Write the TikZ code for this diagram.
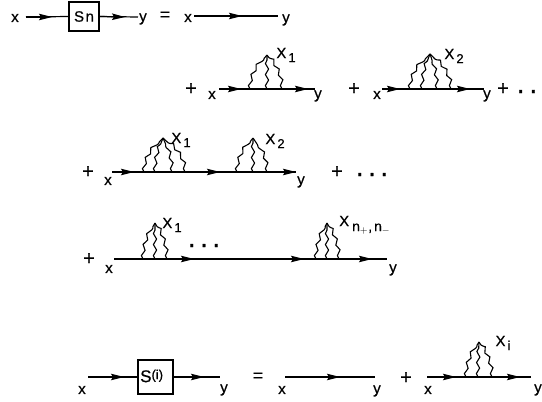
\documentclass[tikz,border=0pt]{standalone}
\usepackage{fontspec}
\setmainfont{Liberation Sans}[FakeBold=0.6,BoldFont=*]
\usetikzlibrary{arrows.meta,decorations.pathmorphing}

\newcommand{\Xsub}[1]{X\kern2pt\raisebox{-4pt}{\fontsize{13}{13}\selectfont\bfseries #1}}
% wavy lines from the feet up to one apex: apex x, apex y, base y, feet
\newcommand{\bubble}[4]{%
  \foreach \f in {#4} {
    \draw[wiggle] (\f,#3) .. controls (\f,#3-12) and ({(\f*.45+#1*.55)},#2+9) .. (#1,#2);
  }
}

\begin{document}
\begin{tikzpicture}[
  x=1pt,y=-1pt,
  font=\fontsize{15}{16}\selectfont\bfseries,
  line/.style={line width=1.2pt},
  flow/.style={line width=1.2pt,-{Stealth[length=13pt,width=6.5pt,inset=2pt]}},
  wiggle/.style={line width=1.1pt,decorate,decoration={snake,segment length=11pt,amplitude=1.6pt,post length=3pt}},
  term/.style={inner sep=0pt},
  sumsign/.style={inner sep=0pt,font=\fontsize{20}{20}\selectfont\bfseries},
  equal/.style={inner sep=0pt,font=\fontsize{18}{18}\selectfont\bfseries},
  trail/.style={inner sep=0pt,anchor=base,font=\fontsize{28}{28}\selectfont\bfseries},
  boxed/.style={draw,line width=1.2pt,inner sep=0pt,minimum width=30pt}
]
\useasboundingbox (0,0) rectangle (542,402);

% first line
\node[term] (x1) at (15,18) {x};
\node[boxed,minimum height=29pt] (sn) at (84,16.5) {S\kern1.5pt n};
\node[term] (y1) at (143,19) {y};
\node[equal] (eq1) at (165,16) {=};
\node[term] (x2) at (188,18) {x};
\node[term] (y2) at (286,20) {y};
\coordinate (a1) at (26,17);
\coordinate (t1) at (52,17);
\coordinate (t2) at (125,17);
\coordinate (b1) at (138,17);
\coordinate (a2) at (194,16);
\coordinate (t3) at (242,16);
\coordinate (b2) at (278,16);
\draw[line] (a1) -- (sn.west);
\draw[flow] (a1) -- (t1);
\draw[line] (sn.east) -- (b1);
\draw[flow] (sn.east) -- (t2);
\draw[line] (a2) -- (b2);
\draw[flow] (a2) -- (t3);

% second line
\node[sumsign] (p1) at (191,89) {+};
\node[term] (x3) at (212,95) {x};
\node[term] (y3) at (318,96) {y};
\coordinate (a3) at (219,89);
\coordinate (t4) at (241,89);
\coordinate (t5) at (308,89);
\coordinate (b3) at (315,89);
\draw[line] (a3) -- (b3);
\draw[flow] (a3) -- (t4);
\draw[flow] (a3) -- (t5);
\bubble{267}{55}{89}{250,267,282}
\node[term] (l1) at (286,55) {\Xsub{1}};
\node[sumsign] (p2) at (354,89) {+};
\node[term] (x4) at (377,95) {x};
\node[term] (y4) at (487,96) {y};
\coordinate (a4) at (382,89);
\coordinate (t6) at (400,89);
\coordinate (t7) at (470,89);
\coordinate (b4) at (484,89);
\draw[line] (a4) -- (b4);
\draw[flow] (a4) -- (t6);
\draw[flow] (a4) -- (t7);
\bubble{430}{54}{89}{410,422,437,451}
\node[term] (l2) at (454,56) {\Xsub{2}};
\node[sumsign] (p3) at (503,89) {+};
\node[trail] (d1) at (527,93) {.\hspace{5pt}.};

% third line
\node[sumsign] (p4) at (88,172) {+};
\node[term] (x5) at (108,181) {x};
\node[term] (y5) at (301,182) {y};
\coordinate (a5) at (112,172);
\coordinate (t8) at (134,172);
\coordinate (t9) at (220,172);
\coordinate (b5) at (296,172);
\draw[line] (a5) -- (b5);
\draw[flow] (a5) -- (t8);
\draw[flow] (a5) -- (t9);
\draw[flow] (a5) -- (b5);
\bubble{163}{138}{172}{144,155,172,185}
\node[term] (l3) at (181,140) {\Xsub{1}};
\bubble{253}{138}{172}{237,253,267}
\node[term] (l4) at (275,141) {\Xsub{2}};
\node[sumsign] (p5) at (337,172) {+};
\node[trail] (d2) at (372,176) {.\hspace{4.5pt}.\hspace{4.5pt}.};

% fourth line
\node[sumsign] (p6) at (89,259) {+};
\node[term] (x6) at (109,269) {x};
\node[term] (y6) at (393,270) {y};
\coordinate (a6) at (114,259);
\coordinate (t11) at (194,259);
\coordinate (t12) at (304,259);
\coordinate (t13) at (372,259);
\coordinate (b6) at (387,259);
\draw[line] (a6) -- (b6);
\draw[flow] (a6) -- (t11);
\draw[flow] (a6) -- (t12);
\draw[flow] (a6) -- (t13);
\bubble{155}{223}{259}{143,155,167}
\node[term] (l5) at (172,225) {\Xsub{1}};
\node[trail] (d3) at (204,247) {.\hspace{4.5pt}.\hspace{4.5pt}.};
\bubble{327}{223}{259}{316,327,339}
\node[term,anchor=west] (l6) at (339,225) {X\kern3pt\raisebox{-5pt}{\fontsize{14}{14}\selectfont n$_+$,\kern2pt n$_-$}};

% last line
\node[term] (x7) at (82,390) {x};
\node[boxed,minimum width=35pt,minimum height=34pt] (si) at (155.5,377) {};
\node[term,anchor=west] (silab) at (140,376) {\fontsize{17}{17}\selectfont S\raisebox{3pt}{\fontsize{13}{13}\selectfont (i)}};
\node[term] (y7) at (224,390) {y};
\node[equal] (eq2) at (258,377) {=};
\node[term] (x8) at (282,390) {x};
\node[term] (y8) at (377,391) {y};
\node[sumsign] (p7) at (406,378) {+};
\node[term] (x9) at (428,390) {x};
\node[term] (y9) at (538,390) {y};
\coordinate (a7) at (88,377);
\coordinate (t14) at (124,377);
\coordinate (t15) at (204,377);
\coordinate (b7) at (220,377);
\coordinate (a8) at (285,377);
\coordinate (t16) at (340,377);
\coordinate (b8) at (375,377);
\coordinate (a9) at (427,377);
\coordinate (t17) at (456,377);
\coordinate (t18) at (520,377);
\coordinate (b9) at (531,377);
\draw[line] (a7) -- (si.west);
\draw[flow] (a7) -- (t14);
\draw[line] (si.east) -- (b7);
\draw[flow] (si.east) -- (t15);
\draw[line] (a8) -- (b8);
\draw[flow] (a8) -- (t16);
\draw[line] (a9) -- (b9);
\draw[flow] (a9) -- (t17);
\draw[flow] (a9) -- (t18);
\bubble{479}{342}{377}{466,478,492}
\node[term] (l7) at (503,343) {\Xsub{i}};
\end{tikzpicture}
\end{document}
